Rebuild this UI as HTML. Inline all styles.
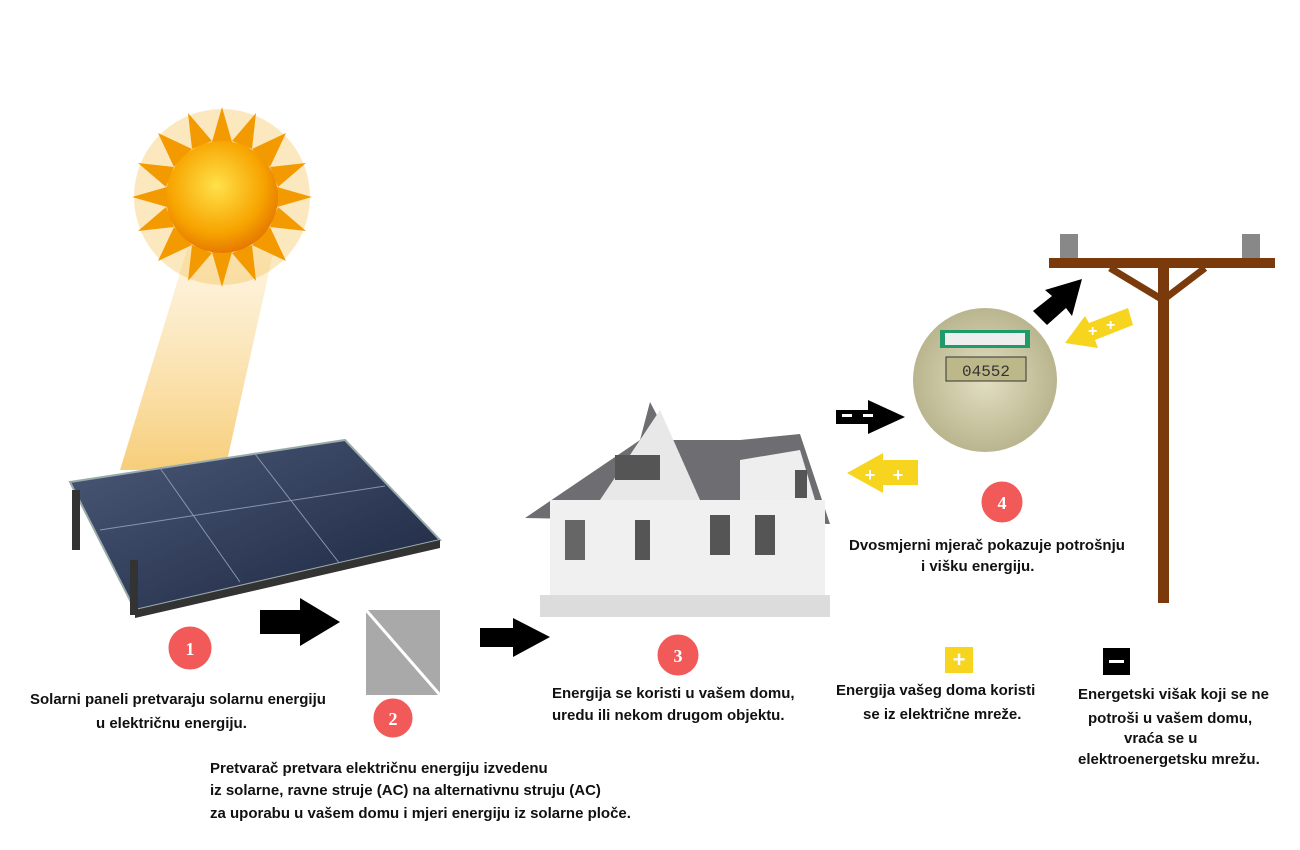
<!DOCTYPE html>
<html><head><meta charset="utf-8"><style>
body{margin:0;width:1300px;height:850px;background:#fff;position:relative;overflow:hidden;font-family:"Liberation Sans",sans-serif;}
.t{position:absolute;font-size:15px;color:#111;line-height:22px;white-space:nowrap;font-weight:bold;}
</style></head><body>
<svg width="1300" height="850" style="position:absolute;left:0;top:0">
<defs>
<radialGradient id="sun" cx="45%" cy="40%" r="60%"><stop offset="0" stop-color="#ffe14a"/><stop offset="0.7" stop-color="#f7a400"/><stop offset="1" stop-color="#e77a00"/></radialGradient>
<linearGradient id="beam" x1="0" y1="0" x2="0" y2="1"><stop offset="0" stop-color="#fbe0a8" stop-opacity="0.3"/><stop offset="1" stop-color="#f6c86a" stop-opacity="0.9"/></linearGradient>
<linearGradient id="pan" x1="0" y1="0" x2="1" y2="1"><stop offset="0" stop-color="#4b5a78"/><stop offset="1" stop-color="#1c2640"/></linearGradient>
<radialGradient id="met" cx="50%" cy="50%" r="50%"><stop offset="0" stop-color="#e2dfc2"/><stop offset="1" stop-color="#b9b58e"/></radialGradient>
</defs>
<!-- beams -->
<polygon points="190,240 275,245 225,470 120,470" fill="url(#beam)"/>
<!-- sun -->
<g transform="translate(222,197)">
<circle r="88" fill="#f5a300" opacity="0.25"/>
<g fill="#f39a00">
<polygon points="0,-90 10,-55 -10,-55" /><polygon points="0,90 10,55 -10,55"/><polygon points="-90,0 -55,10 -55,-10"/><polygon points="90,0 55,10 55,-10"/>
<polygon points="64,-64 30,-48 48,-30"/><polygon points="-64,-64 -30,-48 -48,-30"/><polygon points="64,64 30,48 48,30"/><polygon points="-64,64 -30,48 -48,30"/>
<polygon points="34,-84 10,-56 30,-48"/><polygon points="-34,-84 -10,-56 -30,-48"/><polygon points="34,84 10,56 30,48"/><polygon points="-34,84 -10,56 -30,48"/>
<polygon points="84,-34 56,-10 48,-30"/><polygon points="-84,-34 -56,-10 -48,-30"/><polygon points="84,34 56,10 48,30"/><polygon points="-84,34 -56,10 -48,30"/>
</g>
<circle r="56" fill="url(#sun)"/>
</g>
<!-- panel -->
<polygon points="70,482 345,440 440,540 135,610" fill="url(#pan)" stroke="#9aa" stroke-width="2"/>
<line x1="160" y1="468" x2="240" y2="582" stroke="#8895b0" stroke-width="1"/>
<line x1="255" y1="454" x2="340" y2="564" stroke="#8895b0" stroke-width="1"/>
<line x1="100" y1="530" x2="385" y2="486" stroke="#8895b0" stroke-width="1"/>
<polygon points="135,610 440,540 440,548 135,618" fill="#333"/>
<rect x="72" y="490" width="8" height="60" fill="#333"/><rect x="130" y="560" width="8" height="55" fill="#333"/>
<!-- arrows -->
<polygon points="260,610 300,610 300,598 340,622 300,646 300,634 260,634" fill="#000"/>
<polygon points="480,628 513,628 513,618 550,637 513,657 513,647 480,647" fill="#000"/>
<!-- inverter -->
<rect x="366" y="610" width="74" height="85" fill="#a9a9a9"/>
<line x1="366" y1="610" x2="440" y2="695" stroke="#fff" stroke-width="3"/>
<!-- house -->
<g>
<polygon points="525,518 640,440 650,402 670,440 740,440 800,434 830,524" fill="#6e6e72"/>
<rect x="550" y="500" width="275" height="110" fill="#f0f0f0"/>
<polygon points="600,500 660,410 700,500" fill="#e8e8e8"/>
<polygon points="740,460 800,450 815,500 740,500" fill="#eee"/>
<rect x="540" y="595" width="290" height="22" fill="#dcdcdc"/>
<rect x="615" y="455" width="45" height="25" fill="#555"/>
<rect x="755" y="515" width="20" height="40" fill="#555"/><rect x="710" y="515" width="20" height="40" fill="#555"/>
<rect x="565" y="520" width="20" height="40" fill="#666"/><rect x="635" y="520" width="15" height="40" fill="#555"/>
<rect x="795" y="470" width="12" height="28" fill="#555"/>
</g>
<!-- meter -->
<circle cx="985" cy="380" r="72" fill="url(#met)"/>
<rect x="940" y="330" width="90" height="18" fill="#1f9a6a"/><rect x="945" y="333" width="80" height="12" fill="#eee"/>
<rect x="946" y="357" width="80" height="24" fill="#bdb88a" stroke="#333"/>
<text x="986" y="376" font-size="16" text-anchor="middle" fill="#333" font-family="Liberation Mono">04552</text>
<polygon points="836,410 868,410 868,400 905,417 868,434 868,424 836,424" fill="#000"/>
<rect x="842" y="414" width="10" height="3" fill="#fff"/><rect x="863" y="414" width="10" height="3" fill="#fff"/>
<polygon points="918,460 883,460 883,453 847,473 883,493 883,485 918,485" fill="#f7d41e"/>
<text x="870" y="481" fill="#fff" font-size="18" font-weight="bold" text-anchor="middle">+</text>
<text x="898" y="481" fill="#fff" font-size="18" font-weight="bold" text-anchor="middle">+</text>
<!-- pole -->
<rect x="1060" y="234" width="18" height="26" fill="#888"/><rect x="1242" y="234" width="18" height="26" fill="#888"/>
<rect x="1049" y="258" width="226" height="10" fill="#7a3a0c"/>
<rect x="1158" y="268" width="11" height="335" fill="#7a3a0c"/>
<line x1="1110" y1="268" x2="1163" y2="300" stroke="#7a3a0c" stroke-width="7"/>
<line x1="1205" y1="268" x2="1163" y2="300" stroke="#7a3a0c" stroke-width="7"/>
<polygon points="1033,311 1052,296 1045,290 1082,279 1072,316 1066,308 1047,325" fill="#000"/>
<polygon points="1065,343 1085,316 1089,323 1128,308 1133,325 1095,340 1098,348" fill="#f7d41e"/>
<text x="1088" y="336" fill="#fff" font-size="16" font-weight="bold">+</text><text x="1106" y="330" fill="#fff" font-size="16" font-weight="bold">+</text>
<!-- badges -->
<g fill="#f25a5a" stroke="#fff" stroke-width="1">
<circle cx="190" cy="648" r="22"/><circle cx="393" cy="718" r="20"/><circle cx="678" cy="655" r="21"/><circle cx="1002" cy="502" r="21"/>
</g>
<g fill="#fff" font-size="18" font-weight="bold" text-anchor="middle" font-family="Liberation Serif">
<text x="190" y="655">1</text><text x="393" y="725">2</text><text x="678" y="662">3</text><text x="1002" y="509">4</text>
</g>
<!-- legend -->
<rect x="945" y="647" width="28" height="26" fill="#f7d41e"/>
<text x="959" y="667" fill="#fff" font-size="22" font-weight="bold" text-anchor="middle">+</text>
<rect x="1103" y="648" width="27" height="27" fill="#000"/><rect x="1109" y="660" width="15" height="3" fill="#fff"/>
</svg>
<div class="t" style="left:30px;top:689px">Solarni paneli pretvaraju solarnu energiju</div>
<div class="t" style="left:96px;top:713px">u električnu energiju.</div>
<div class="t" style="left:210px;top:758px">Pretvarač pretvara električnu energiju izvedenu</div>
<div class="t" style="left:210px;top:780px">iz solarne, ravne struje (AC) na alternativnu struju (AC)</div>
<div class="t" style="left:210px;top:803px">za uporabu u vašem domu i mjeri energiju iz solarne ploče.</div>
<div class="t" style="left:552px;top:683px">Energija se koristi u vašem domu,</div>
<div class="t" style="left:552px;top:705px">uredu ili nekom drugom objektu.</div>
<div class="t" style="left:849px;top:535px">Dvosmjerni mjerač pokazuje potrošnju</div>
<div class="t" style="left:921px;top:556px">i višku energiju.</div>
<div class="t" style="left:836px;top:680px">Energija vašeg doma koristi</div>
<div class="t" style="left:863px;top:704px">se iz električne mreže.</div>
<div class="t" style="left:1078px;top:684px">Energetski višak koji se ne</div>
<div class="t" style="left:1088px;top:708px">potroši u vašem domu,</div>
<div class="t" style="left:1124px;top:728px">vraća se u</div>
<div class="t" style="left:1078px;top:749px">elektroenergetsku mrežu.</div>
</body></html>
